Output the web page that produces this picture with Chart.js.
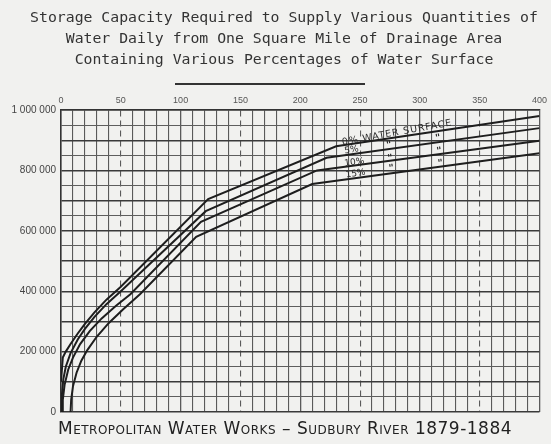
<!DOCTYPE html>
<html>
<head>
<meta charset="utf-8">
<script src="https://cdn.jsdelivr.net/npm/chart.js@4.4.0/dist/chart.umd.min.js"></script>
<style>
  html, body { margin: 0; padding: 0; background: #f1f1ef; }
  #wrap { position: relative; width: 551px; height: 444px; overflow: hidden; }
  #chart { position: absolute; left: 0; top: 0; }
  .title {
    position: absolute; left: 0; width: 568px; text-align: center;
    font-family: "DejaVu Sans Mono", monospace; font-size: 14.8px; color: #333;
    white-space: nowrap;
  }
  #rule { position: absolute; left: 175px; top: 83px; width: 190px; height: 1.5px; background: #333; }
  #caption {
    position: absolute; left: 58px; top: 418px; white-space: nowrap;
    font-family: "DejaVu Sans", sans-serif; font-size: 17px; color: #222;
    font-variant: small-caps; letter-spacing: 0.5px;
  }
</style>
</head>
<body>
<div id="wrap">
  <canvas id="chart" width="551" height="444"></canvas>
  <div class="title" style="top:8px">Storage Capacity Required to Supply Various Quantities of</div>
  <div class="title" style="top:29px">Water Daily from One Square Mile of Drainage Area</div>
  <div class="title" style="top:50px">Containing Various Percentages of Water Surface</div>
  <div id="rule"></div>
  <div id="caption">Metropolitan Water Works – Sudbury River 1879-1884</div>
</div>
<script>
// daily quantity supplied (x) vs storage required (y), one pair of arrays per curve
const x0 = [0, 1.5, 4, 8, 14, 20, 28, 38, 50, 123, 230, 400];
const y0 = [100000, 180000, 200000, 225000, 260000, 292000, 330000, 372000, 415000, 705000, 880000, 980000];

const x5 = [0, 0.8, 2, 4, 8, 14, 20, 28, 38, 50, 121, 222, 400];
const y5 = [0, 60000, 110000, 150000, 195000, 240000, 275000, 315000, 357000, 400000, 665000, 842000, 940000];

const x10 = [1, 1.5, 3, 6, 10, 16, 24, 34, 46, 58, 117, 214, 400];
const y10 = [0, 40000, 90000, 140000, 180000, 225000, 268000, 310000, 352000, 390000, 630000, 800000, 898000];

const x15 = [8, 8.5, 10, 13, 17, 22, 30, 40, 52, 66, 113, 210, 400];
const y15 = [0, 40000, 85000, 130000, 170000, 205000, 250000, 295000, 340000, 390000, 580000, 755000, 857000];

// curve labels written on the sheet
const labelText = ['0% WATER SURFACE', '5%', '10%', '15%', '"', '"', '"', '"', '"', '"'];
const labelX = [235, 237, 237, 238, 272, 313, 273, 314, 274, 315];
const labelY = [892000, 864000, 822000, 784000, 882000, 905000, 838000, 862000, 805000, 821000];

function pts(xs, ys) {
    return xs.map((x, i) => ({ x: x, y: ys[i] }));
}

function fmt(v) {
    return String(v).replace(/\B(?=(\d{3})+(?!\d))/g, ' ');
}

const curveStyle = {
    showLine: true,
    borderColor: '#1e1e1e',
    borderWidth: 2,
    pointRadius: 0,
    tension: 0,
    fill: false
};

// draws the hand lettering along the curves
const sheetLabels = {
    id: 'sheetLabels',
    afterDatasetsDraw(chart) {
        const ctx = chart.ctx;
        const xs = chart.scales.x, ys = chart.scales.y;
        // slope of the upper curve's last stretch, in pixels
        const n = x0.length - 1;
        const ang = Math.atan2(ys.getPixelForValue(y0[n]) - ys.getPixelForValue(y0[n - 1]),
                               xs.getPixelForValue(x0[n]) - xs.getPixelForValue(x0[n - 1]));
        ctx.save();
        ctx.fillStyle = '#2a2a2a';
        ctx.textBaseline = 'middle';
        labelText.forEach((t, i) => {
            ctx.save();
            ctx.translate(xs.getPixelForValue(labelX[i]), ys.getPixelForValue(labelY[i]));
            ctx.rotate(i === 0 ? ang * 1.2 : ang);
            if (i === 0) {
                ctx.font = '9.5px "DejaVu Sans"';
                ctx.letterSpacing = '0.9px';
            } else if (t === '"') {
                ctx.font = 'bold 10px "DejaVu Sans"';
                ctx.letterSpacing = '0px';
            } else {
                ctx.font = '9px "DejaVu Sans"';
                ctx.letterSpacing = '0px';
            }
            ctx.fillText(t, 0, 0);
            ctx.restore();
        });
        ctx.restore();
    }
};

new Chart(document.getElementById('chart'), {
    type: 'scatter',
    data: {
        datasets: [
            Object.assign({ label: '0%', data: pts(x0, y0) }, curveStyle),
            Object.assign({ label: '5%', data: pts(x5, y5) }, curveStyle),
            Object.assign({ label: '10%', data: pts(x10, y10) }, curveStyle),
            Object.assign({ label: '15%', data: pts(x15, y15) }, curveStyle)
        ]
    },
    options: {
        responsive: false,
        animation: false,
        layout: { padding: { left: 0, right: 9, top: 88, bottom: 32 } },
        plugins: { legend: { display: false }, tooltip: { enabled: false } },
        scales: {
            x: {
                type: 'linear',
                position: 'top',
                min: 0, max: 400,
                afterFit: s => { s.height = 22; },
                ticks: {
                    stepSize: 10,
                    autoSkip: false,
                    maxRotation: 0,
                    padding: 4,
                    color: '#555',
                    font: { family: 'Liberation Sans', size: 9 },
                    callback: v => (v % 50 === 0 ? String(v) : '')
                },
                grid: {
                    drawTicks: false,
                    color: '#5a5a5a',
                    lineWidth: c => (c.tick && c.tick.value % 100 === 0 ? 1.3 : 1.1)
                },
                border: {
                    color: '#333',
                    width: 1.5,
                    dash: c => (c.tick && c.tick.value % 100 === 50 ? [6, 4] : [])
                }
            },
            y: {
                min: 0, max: 1000000,
                afterFit: s => { s.width = 61; },
                ticks: {
                    stepSize: 50000,
                    autoSkip: false,
                    padding: 5,
                    color: '#444',
                    font: { family: 'Liberation Sans', size: 10 },
                    callback: v => (v % 200000 === 0 ? fmt(v) : '')
                },
                grid: {
                    drawTicks: false,
                    color: c => (c.tick && c.tick.value % 100000 === 0 ? '#3a3a3a' : '#5e5e5e'),
                    lineWidth: c => (c.tick && c.tick.value % 100000 === 0 ? 1.4 : 1.1)
                },
                border: { color: '#333', width: 1.5 }
            }
        }
    },
    plugins: [sheetLabels]
});
</script>
</body>
</html>
